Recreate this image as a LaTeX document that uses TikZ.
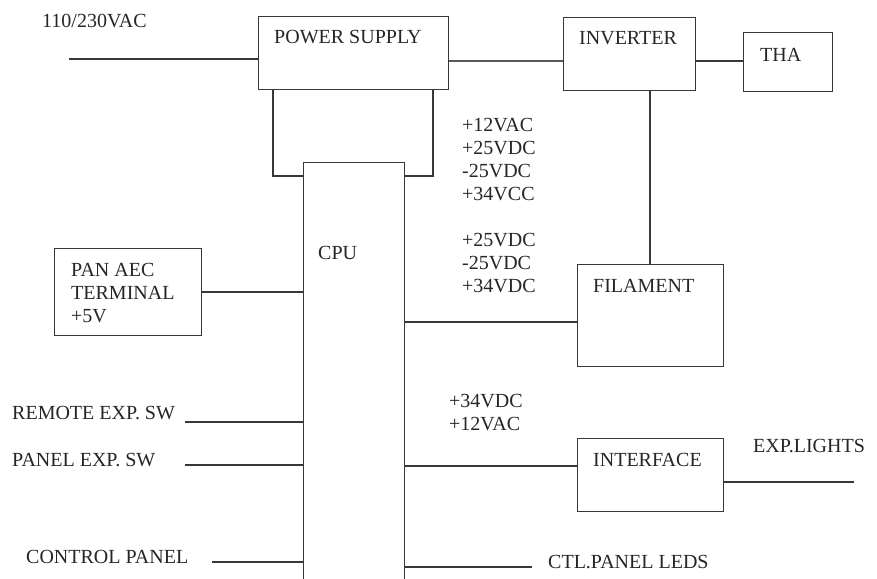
\documentclass[tikz,border=0pt]{standalone}
\usepackage{fontspec}
\setmainfont{Liberation Serif}
\begin{document}
\begin{tikzpicture}[x=1pt,y=-1pt,
  box/.style={draw=black!78,line width=1.4pt,rectangle,inner sep=0pt,anchor=north west},
  wire/.style={draw=black!78,line width=1.4pt},
  thinwire/.style={draw=black!65,line width=1.2pt},
  lbl/.style={inner sep=0pt,anchor=base west,text=black!85,font=\fontsize{20}{23}\selectfont},
  mlbl/.style={inner sep=0pt,anchor=north west,align=left,text=black!85,font=\fontsize{20}{23}\selectfont}]
\useasboundingbox (0,0) rectangle (877,578);
\clip (0,0) rectangle (877,578);
\fill[white] (0,0) rectangle (877,578);
% boxes
\node[box,minimum width=190pt,minimum height=73pt] (ps) at (258,16) {};
\node[box,minimum width=132pt,minimum height=73pt] (inv) at (563,17) {};
\node[box,minimum width=89pt,minimum height=59pt] (tha) at (743,32) {};
\node[box,minimum width=101pt,minimum height=440pt] (cpu) at (303,162) {};
\node[box,minimum width=147pt,minimum height=87pt] (pan) at (54,248) {};
\node[box,minimum width=146pt,minimum height=102pt] (fil) at (577,264) {};
\node[box,minimum width=146pt,minimum height=73pt] (intf) at (577,438) {};
% labels
\node[lbl] (tin) at (42,28) {110/230VAC};
\node[lbl] (tps) at (274,44) {POWER SUPPLY};
\node[lbl] (tinv) at (579,45) {INVERTER};
\node[lbl] (ttha) at (760,61) {THA};
\node[lbl] (tcpu) at (318,259) {CPU};
\node[lbl] (tfil) at (593,292) {FILAMENT};
\node[lbl] (tintf) at (593,466) {INTERFACE};
\node[lbl] (texp) at (753,452) {EXP.LIGHTS};
\node[lbl] (tctl) at (548,568) {CTL.PANEL LEDS};
\node[lbl] (trem) at (12,419) {REMOTE EXP. SW};
\node[lbl] (tpan) at (12,466) {PANEL EXP. SW};
\node[lbl] (tcon) at (26,563) {CONTROL PANEL};
\node[mlbl] (tpae) at (71,262.8) {PAN AEC\\TERMINAL\\+5V};
\node[mlbl] (g1) at (462,118.5) {+12VAC\\+25VDC\\-25VDC\\+34VCC};
\node[mlbl] (g2) at (462,233.5) {+25VDC\\-25VDC\\+34VDC};
\node[mlbl] (g3) at (449,394.5) {+34VDC\\+12VAC};
% helper coordinates
\coordinate (inL) at (69,59);
\coordinate (r61) at (0,61);
\coordinate (c650) at (650,0);
\coordinate (l1) at (273,176);
\coordinate (l2) at (433,176);
\coordinate (y292) at (0,292);
\coordinate (y322) at (0,322);
\coordinate (rem) at (185,422);
\coordinate (pnl) at (185,465);
\coordinate (con) at (212,562);
\coordinate (y466) at (0,466);
\coordinate (expR) at (854,482);
\coordinate (ctlR) at (532,567);
% connectors
\draw[wire] (inL) -- (inL -| ps.west);
\draw[thinwire] (r61 -| ps.east) -- (r61 -| inv.west);
\draw[wire] (r61 -| inv.east) -- (r61 -| tha.west);
\draw[wire] (c650 |- inv.south) -- (c650 |- fil.north);
\draw[wire] (l1 |- ps.south) -- (l1) -- (l1 -| cpu.west);
\draw[wire] (l2 |- ps.south) -- (l2) -- (l2 -| cpu.east);
\draw[wire] (y292 -| pan.east) -- (y292 -| cpu.west);
\draw[wire] (y322 -| cpu.east) -- (y322 -| fil.west);
\draw[wire] (rem) -- (rem -| cpu.west);
\draw[wire] (pnl) -- (pnl -| cpu.west);
\draw[wire] (con) -- (con -| cpu.west);
\draw[wire] (y466 -| cpu.east) -- (y466 -| intf.west);
\draw[wire] (expR -| intf.east) -- (expR);
\draw[wire] (ctlR -| cpu.east) -- (ctlR);
\end{tikzpicture}
\end{document}
